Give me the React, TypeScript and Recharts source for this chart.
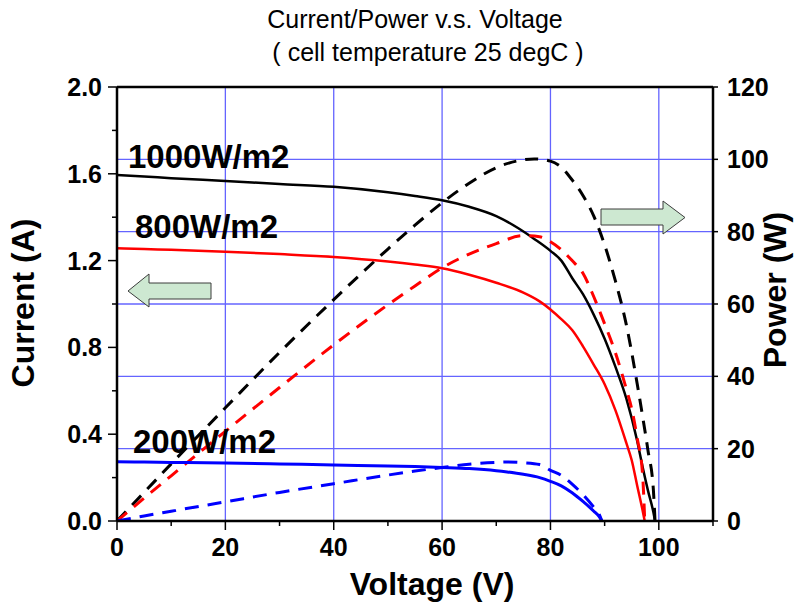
import React from "react";
import {
  LineChart,
  Line,
  XAxis,
  YAxis,
  CartesianGrid,
  ReferenceLine,
} from "recharts";

// ---- data ----
const v1000 = [0, 5, 10, 20, 30, 40, 50, 55, 60, 65, 70, 74, 77, 80, 82, 84, 86, 88, 90, 92, 94, 96, 97, 98, 99, 99.3];
const i1000 = [1.595, 1.588, 1.58, 1.567, 1.553, 1.54, 1.515, 1.498, 1.478, 1.448, 1.405, 1.35, 1.3, 1.245, 1.2, 1.12, 1.045, 0.95, 0.84, 0.71, 0.565, 0.37, 0.25, 0.14, 0.04, 0];
const p1000 = [0, 7.9, 15.8, 31.3, 46.6, 61.2, 75.2, 81.8, 88.0, 93.4, 97.7, 99.6, 100.1, 99.5, 97.8, 94.3, 90.0, 84.3, 76.3, 66.3, 54.3, 38, 29, 19.5, 8.5, 0];

const v800 = [0, 5, 10, 20, 30, 40, 50, 55, 60, 65, 70, 75, 78, 80, 82, 84, 86, 88, 90, 92, 94, 95, 96, 97, 97.4];
const i800 = [1.257, 1.253, 1.25, 1.241, 1.23, 1.217, 1.196, 1.182, 1.165, 1.135, 1.098, 1.052, 1.012, 0.975, 0.93, 0.88, 0.805, 0.72, 0.63, 0.51, 0.36, 0.28, 0.164, 0.05, 0];
const p800 = [0, 6.3, 12.5, 24.8, 36.9, 48.7, 59.8, 65.0, 70.0, 73.8, 76.7, 78.9, 78.6, 77.2, 75, 72, 68.5, 62, 54.5, 46.5, 36.5, 31, 23, 13, 0];

const v200 = [0, 5, 10, 20, 30, 40, 50, 55, 60, 65, 70, 72, 75, 78, 80, 82, 84, 86, 88, 89, 89.5];
const i200 = [0.273, 0.272, 0.27, 0.267, 0.263, 0.258, 0.254, 0.251, 0.247, 0.242, 0.232, 0.226, 0.215, 0.2, 0.183, 0.162, 0.13, 0.09, 0.045, 0.02, 0];
const p200 = [0, 1.4, 2.7, 5.3, 7.9, 10.3, 12.7, 13.8, 14.8, 15.7, 16.2, 16.3, 16.1, 15.6, 14, 12.6, 10.2, 7.3, 3.8, 1.8, 0];

const xTicks = [0, 10, 20, 30, 40, 50, 60, 70, 80, 90, 100, 110];
const leftTicks = [0, 0.2, 0.4, 0.6, 0.8, 1.0, 1.2, 1.4, 1.6, 1.8, 2.0];
const rightTicks = [0, 20, 40, 60, 80, 100, 120];
const gridX = [20, 40, 60, 80, 100];
const gridPower = [20, 40, 60, 80, 100];

const zip = (v: number[], i: number[], p: number[]) =>
  v.map((vv, k) => ({ v: vv, i: i[k], p: p[k] }));

const d1000 = zip(v1000, i1000, p1000);
const d800 = zip(v800, i800, p800);
const d200 = zip(v200, i200, p200);

const FONT = "'Liberation Sans', Arial, Helvetica, sans-serif";
const TICK_FS = 25;

const LeftTick = (props: any) => {
  const { x, y, payload } = props;
  const v = payload.value as number;
  const major = Math.round(v * 10) % 4 === 0;
  return (
    <g>
      <line x1={x} y1={y} x2={x - (major ? 9 : 5)} y2={y} stroke="#000" strokeWidth={1.5} />
      {major && (
        <text x={x - 15} y={y} dy="0.36em" textAnchor="end" fontFamily={FONT} fontWeight="bold" fontSize={TICK_FS} fill="#000">
          {v.toFixed(1)}
        </text>
      )}
    </g>
  );
};

const RightTick = (props: any) => {
  const { x, y, payload } = props;
  const v = payload.value as number;
  return (
    <g>
      <line x1={x} y1={y} x2={x + 5} y2={y} stroke="#000" strokeWidth={1.5} />
      <text x={x + 14} y={y} dy="0.36em" textAnchor="start" fontFamily={FONT} fontWeight="bold" fontSize={TICK_FS} fill="#000">
        {v}
      </text>
    </g>
  );
};

const BottomTick = (props: any) => {
  const { x, y, payload } = props;
  const v = payload.value as number;
  const major = v % 20 === 0 && v <= 100;
  return (
    <g>
      <line x1={x} y1={y} x2={x} y2={y + (major ? 9 : 5)} stroke="#000" strokeWidth={1.5} />
      {major && (
        <text x={x} y={y + 35} textAnchor="middle" fontFamily={FONT} fontWeight="bold" fontSize={TICK_FS} fill="#000">
          {v}
        </text>
      )}
    </g>
  );
};

const W = 810;
const H = 608;

export default function App() {
  return (
    <div style={{ position: "absolute", left: 0, top: 0, width: W, height: H, background: "#fff" }}>
      <LineChart
        width={W}
        height={H}
        margin={{ top: 87, right: 37, bottom: 42, left: 57 }}
      >
        <CartesianGrid
          yAxisId="right"
          verticalValues={gridX}
          horizontalValues={gridPower}
          stroke="#6464ff"
          strokeWidth={1.3}
        />
        <XAxis
          dataKey="v"
          type="number"
          domain={[0, 110]}
          ticks={xTicks}
          interval={0}
          allowDataOverflow
          height={45}
          tickSize={0}
          tickMargin={0}
          tickLine={false}
          axisLine={{ stroke: "#000", strokeWidth: 2.5 }}
          tick={<BottomTick />}
        />
        <YAxis
          yAxisId="left"
          orientation="left"
          type="number"
          domain={[0, 2]}
          ticks={leftTicks}
          interval={0}
          allowDataOverflow
          width={60}
          tickSize={0}
          tickMargin={0}
          tickLine={false}
          axisLine={{ stroke: "#000", strokeWidth: 2.5 }}
          tick={<LeftTick />}
        />
        <YAxis
          yAxisId="right"
          orientation="right"
          type="number"
          domain={[0, 120]}
          ticks={rightTicks}
          interval={0}
          allowDataOverflow
          width={60}
          tickSize={0}
          tickMargin={0}
          tickLine={false}
          axisLine={{ stroke: "#000", strokeWidth: 2.5 }}
          tick={<RightTick />}
        />
        <ReferenceLine yAxisId="left" y={2} stroke="#000" strokeWidth={2.5} />

        <Line data={d1000} yAxisId="left" dataKey="i" type="monotone" stroke="#000" strokeWidth={2.5} dot={false} isAnimationActive={false} />
        <Line data={d1000} yAxisId="right" dataKey="p" type="monotone" stroke="#000" strokeWidth={3} strokeDasharray="13 9" dot={false} isAnimationActive={false} />
        <Line data={d800} yAxisId="left" dataKey="i" type="monotone" stroke="#ff0000" strokeWidth={2.5} dot={false} isAnimationActive={false} />
        <Line data={d800} yAxisId="right" dataKey="p" type="monotone" stroke="#ff0000" strokeWidth={3} strokeDasharray="13 9" dot={false} isAnimationActive={false} />
        <Line data={d200} yAxisId="left" dataKey="i" type="monotone" stroke="#0000ff" strokeWidth={3} dot={false} isAnimationActive={false} />
        <Line data={d200} yAxisId="right" dataKey="p" type="monotone" stroke="#0000ff" strokeWidth={3} strokeDasharray="14 9" dot={false} isAnimationActive={false} />
      </LineChart>

      <svg
        width={W}
        height={H}
        style={{ position: "absolute", left: 0, top: 0, pointerEvents: "none" }}
      >
        <g fontFamily={FONT} fill="#000">
          <text x={415} y={28} textAnchor="middle" fontSize={25}>Current/Power v.s. Voltage</text>
          <text x={428} y={61} textAnchor="middle" fontSize={25}>( cell temperature 25 degC )</text>

          <text x={432} y={595} textAnchor="middle" fontSize={32} fontWeight="bold">Voltage (V)</text>
          <text transform="translate(34,303) rotate(-90)" textAnchor="middle" fontSize={32} fontWeight="bold">Current (A)</text>
          <text transform="translate(786,290) rotate(-90)" textAnchor="middle" fontSize={32} fontWeight="bold">Power (W)</text>

          <text x={128} y={168} fontSize={33} fontWeight="bold">1000W/m2</text>
          <text x={135} y={238} fontSize={33} fontWeight="bold">800W/m2</text>
          <text x={133} y={453} fontSize={33} fontWeight="bold">200W/m2</text>
        </g>
        <polygon
          points="128,291 149,274 149,283 211,283 211,299 149,299 149,307"
          fill="#cde8d1"
          stroke="#3c3c3c"
          strokeWidth={1}
        />
        <polygon
          points="601,209 663,209 663,201 685,217.5 663,234 663,225 601,225"
          fill="#cde8d1"
          stroke="#3c3c3c"
          strokeWidth={1}
        />
      </svg>
    </div>
  );
}
